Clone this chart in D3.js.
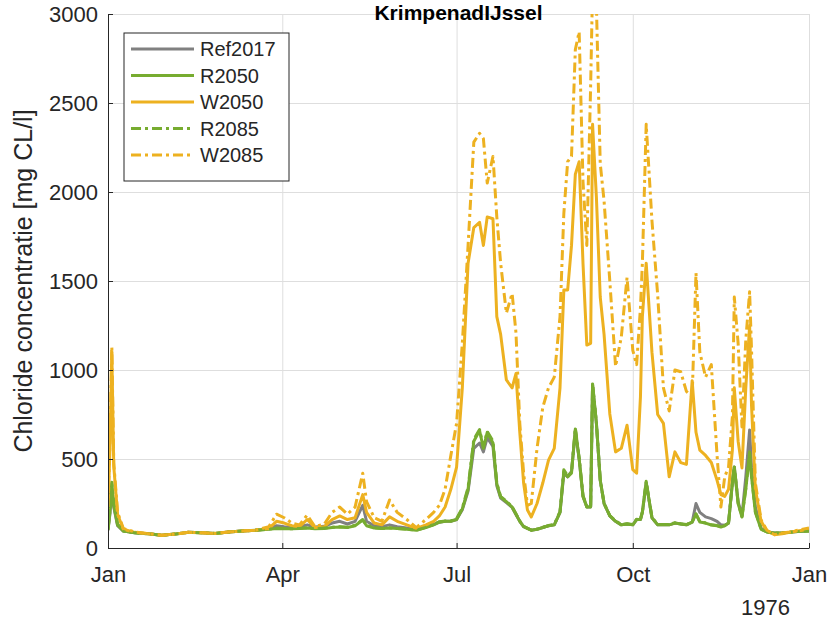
<!DOCTYPE html>
<head>
  <title>KrimpenadIJssel</title>
  <meta charset="utf-8">
<style>
body, html {
    margin: 0;
    padding: 0;
    background: #fff;
}
svg text {
    font-family: "Liberation Sans", Arial, Helvetica, sans-serif;
    fill: #262626;
}
.grid line {
  stroke: #dedede;
  stroke-width: 1;
}
.grid path {
  display: none;
}
.axis path,
.axis line {
  stroke: #262626;
  stroke-width: 1;
}
.line {
  fill: none;
  stroke-width: 3;
  stroke-linejoin: round;
}
</style>
</head>
<body>
    <div id="chart"></div>
<script src="https://d3js.org/d3.v7.min.js"></script>
<script type="text/javascript">

// day of year (0 = 1 Jan 1976)
var dayOfYear = [0,1,2,3,5,8,14,21,28,35,
    42,49,56,63,70,77,84,88,92,96,
    100,104,108,113,117,121,125,129,133,135,
    139,143,147,151,156,161,166,170,
    173,176,179,182,185,188,191,194,196,198,
    201,203,205,208,211,213,215,217,219,221,
    224,227,230,233,236,238,240,242,244,246,
    248,250,252,253,255,257,259,262,265,268,
    271,274,276,278,279,281,284,287,290,293,
    296,299,302,305,307,309,312,315,318,320,
    322,324,326,327,329,331,333,335,336,338,
    341,344,348,352,356,360,366];

var ref2017 = [100,190,340,230,125,95,85,80,72,78,
    88,85,82,90,95,100,108,125,120,118,
    120,130,118,122,140,150,135,150,240,150,
    125,120,130,120,112,105,118,132,
    145,150,150,160,215,320,560,590,540,620,
    570,350,280,255,228,188,150,120,110,100,
    105,115,125,130,200,420,400,430,660,500,
    290,230,230,915,700,380,250,180,150,130,
    135,130,160,160,200,365,170,130,130,130,
    140,135,130,145,250,200,175,165,150,130,
    128,140,370,455,260,180,400,663,450,230,
    110,92,84,85,88,92,96];

var r2050 = [100,200,360,240,130,95,85,80,72,78,
    88,85,82,90,95,100,105,110,108,108,
    110,112,108,110,115,118,115,125,157,125,
    112,110,112,110,105,100,115,130,
    145,150,150,160,220,330,600,660,560,650,
    590,360,286,260,230,190,150,120,110,100,
    105,115,125,130,200,430,400,420,669,500,
    290,230,230,921,700,380,250,180,150,130,
    135,130,160,160,200,370,170,130,130,130,
    140,135,130,145,190,146,140,129,125,118,
    125,140,365,455,250,174,330,534,400,200,
    105,90,84,85,88,92,96];

var w2050 = [220,550,1100,460,190,105,88,80,72,78,
    88,85,82,90,95,100,110,150,140,125,
    120,160,115,120,160,180,160,170,300,200,
    140,130,175,150,130,110,130,150,
    180,230,330,455,900,1600,1800,1830,1700,1860,
    1850,1300,1200,944,900,980,650,365,213,174,
    250,365,494,560,900,1450,1450,1700,2100,2170,
    1600,1140,1150,2380,1970,1410,1200,753,540,560,
    690,440,420,850,1300,1600,1100,750,700,400,
    540,480,470,940,650,550,520,480,380,300,
    290,330,550,900,600,450,900,1250,800,330,
    150,95,75,80,88,95,105];

var r2085 = [105,210,370,250,135,95,85,80,72,78,
    88,85,82,90,95,100,106,112,110,108,
    110,114,108,112,116,120,116,128,160,128,
    114,110,114,110,106,100,116,132,
    148,152,152,165,225,340,610,665,570,655,
    600,365,290,262,232,192,152,122,110,100,
    106,116,126,132,205,440,405,425,675,505,
    295,232,232,925,705,385,252,182,152,132,
    136,132,162,162,205,375,172,132,132,132,
    142,136,132,146,192,148,140,130,126,120,
    126,142,368,460,252,176,335,540,405,205,
    106,90,84,85,88,92,96];

var w2085 = [230,600,1130,480,200,110,90,80,72,78,
    88,85,82,90,95,100,120,190,170,140,
    130,185,120,135,200,230,190,230,420,260,
    170,150,270,200,160,115,160,200,
    240,330,520,700,1150,1700,2280,2330,2300,2050,
    2200,1860,1600,1320,1430,1210,700,420,240,250,
    560,790,900,960,1300,1880,2170,2200,2800,2900,
    2060,1700,2600,3150,3050,2160,1950,1500,1020,1185,
    1520,1110,1030,1350,1600,2380,1840,1420,900,770,
    1000,990,880,850,1545,1100,960,1030,520,230,
    400,455,740,1410,1150,680,1170,1440,1110,365,
    157,100,75,84,90,100,112];

var seriesNames = ["Ref2017", "R2050", "W2050", "R2085", "W2085"];
var yTicks = [0, 500, 1000, 1500, 2000, 2500, 3000];
var xTickLabels = ["Jan", "Apr", "Jul", "Oct", "Jan"];
var xTickMonths = [0, 3, 6, 9, 12];
var titleText = "KrimpenadIJssel";
var yLabel = "Chloride concentratie [mg CL/l]";
var yearLabel = "1976";

var margin = {top: 14, right: 23, bottom: 72, left: 108},
    width = 832 - margin.left - margin.right,
    height = 620 - margin.top - margin.bottom;

var start = new Date(1976, 0, 1);
var dates = dayOfYear.map(function(d) { return d3.timeDay.offset(start, d); });
var xTickDates = xTickMonths.map(function(m) { return new Date(1976, m, 1); });

var series = [
    {name: seriesNames[0], values: ref2017, color: "#808080", dash: null},
    {name: seriesNames[1], values: r2050, color: "#77ac30", dash: null},
    {name: seriesNames[2], values: w2050, color: "#edb120", dash: null},
    {name: seriesNames[3], values: r2085, color: "#77ac30", dash: "10,4,3,4"},
    {name: seriesNames[4], values: w2085, color: "#edb120", dash: "10,4,3,4"}
];

var svg = d3.select("#chart")
    .append("svg")
    .attr("width", width + margin.left + margin.right)
    .attr("height", height + margin.top + margin.bottom);

var g = svg.append("g")
    .attr("transform", "translate(" + margin.left + "," + margin.top + ")");

var x = d3.scaleTime().domain([start, new Date(1977, 0, 1)]).range([0, width]);
var y = d3.scaleLinear().domain([0, 3000]).range([height, 0]);

// grid
g.append("g")
    .attr("class", "grid")
    .attr("transform", "translate(0," + height + ")")
    .call(d3.axisBottom(x).tickValues(xTickDates).tickSize(-height).tickFormat(""));
g.append("g")
    .attr("class", "grid")
    .call(d3.axisLeft(y).tickValues(yTicks).tickSize(-width).tickFormat(""));

// lines, clipped to the axes box
svg.append("defs").append("clipPath")
    .attr("id", "clip")
  .append("rect")
    .attr("width", width)
    .attr("height", height);

var line = d3.line()
    .x(function(d, i) { return x(dates[i]); })
    .y(function(d) { return y(d); });

g.append("g")
    .attr("clip-path", "url(#clip)")
  .selectAll("path")
    .data(series)
  .enter().append("path")
    .attr("class", "line")
    .style("stroke", function(d) { return d.color; })
    .style("stroke-dasharray", function(d) { return d.dash; })
    .attr("d", function(d) { return line(d.values); });

// axes (ticks pointing inwards, like matlab)
var xAxis = g.append("g")
    .attr("class", "axis")
    .attr("transform", "translate(0," + height + ")")
    .call(d3.axisBottom(x).tickValues(xTickDates).tickSizeInner(-5).tickSizeOuter(0).tickPadding(18)
        .tickFormat(function(d, i) { return xTickLabels[i]; }));
xAxis.selectAll("text").style("font-size", "22px");

var yAxis = g.append("g")
    .attr("class", "axis")
    .call(d3.axisLeft(y).tickValues(yTicks).tickSizeInner(-5).tickSizeOuter(0).tickPadding(10)
        .tickFormat(d3.format("d")));
yAxis.selectAll("text").style("font-size", "22px");

svg.append("text")
    .attr("x", 790)
    .attr("y", 615)
    .attr("text-anchor", "end")
    .style("font-size", "22px")
    .text(yearLabel);

svg.append("text")
    .attr("transform", "translate(32," + (margin.top + height / 2) + ") rotate(-90)")
    .attr("text-anchor", "middle")
    .style("font-size", "25px")
    .text(yLabel);

// title sits right on top of the axes box
svg.append("text")
    .attr("x", margin.left + width / 2)
    .attr("y", 20)
    .attr("text-anchor", "middle")
    .style("font-size", "21px")
    .style("font-weight", "bold")
    .style("fill", "#000")
    .text(titleText);

// legend
var legend = svg.append("g")
    .attr("transform", "translate(124,33)");
legend.append("rect")
    .attr("width", 165)
    .attr("height", 148)
    .style("fill", "#fff")
    .style("stroke", "#262626")
    .style("stroke-width", 1);

var item = legend.selectAll(".item")
    .data(series)
  .enter().append("g")
    .attr("class", "item")
    .attr("transform", function(d, i) { return "translate(0," + (16 + i * 26.5) + ")"; });
item.append("line")
    .attr("x1", 7)
    .attr("x2", 70)
    .style("stroke", function(d) { return d.color; })
    .style("stroke-width", 3)
    .style("stroke-dasharray", function(d) { return d.dash; });
item.append("text")
    .attr("x", 76)
    .attr("dy", "0.35em")
    .style("font-size", "20px")
    .text(function(d) { return d.name; });

</script>
</body>
